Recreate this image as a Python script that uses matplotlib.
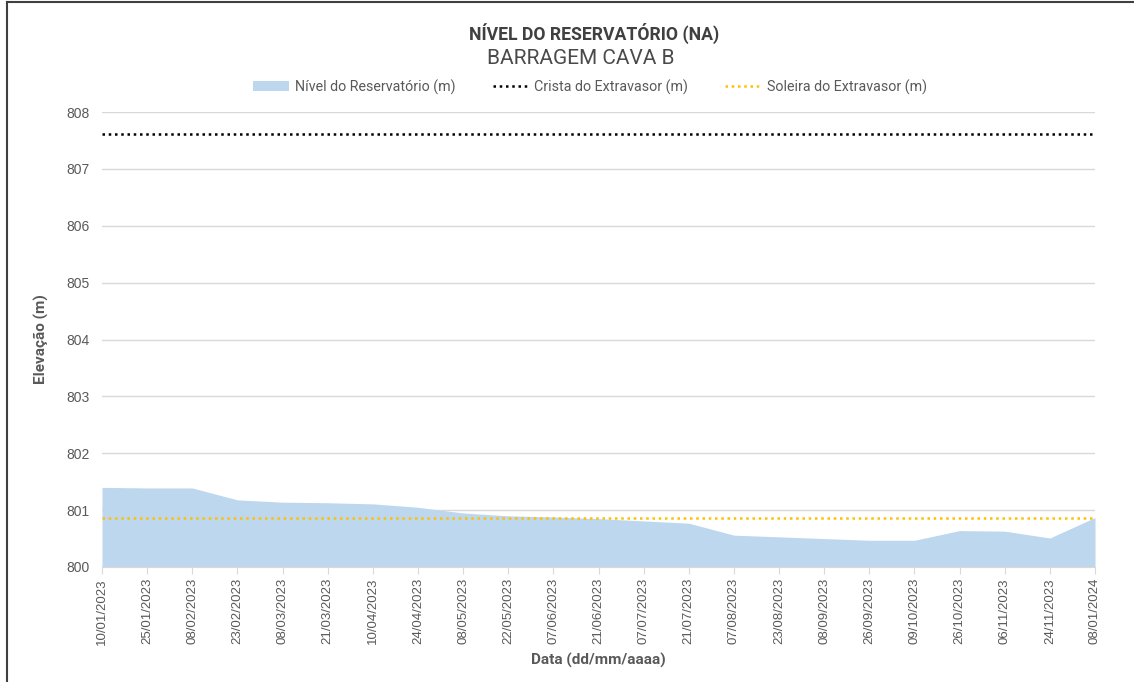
import matplotlib
matplotlib.use("Agg")
import matplotlib.pyplot as plt
from matplotlib.lines import Line2D
from matplotlib.patches import Patch
from matplotlib import font_manager

names = {f.name for f in font_manager.fontManager.ttflist}
narrow = 'Liberation Sans Narrow' if 'Liberation Sans Narrow' in names else 'Roboto'
plt.rcParams['font.family'] = ['Liberation Sans', 'DejaVu Sans']

dates = ["10/01/2023", "25/01/2023", "08/02/2023", "23/02/2023", "08/03/2023",
         "21/03/2023", "10/04/2023", "24/04/2023", "08/05/2023", "22/05/2023",
         "07/06/2023", "21/06/2023", "07/07/2023", "21/07/2023", "07/08/2023",
         "23/08/2023", "08/09/2023", "26/09/2023", "09/10/2023", "26/10/2023",
         "06/11/2023", "24/11/2023", "08/01/2024"]
nivel = [801.40, 801.39, 801.39, 801.18, 801.14, 801.13, 801.11, 801.05,
         800.95, 800.90, 800.88, 800.85, 800.81, 800.77, 800.56, 800.53,
         800.50, 800.47, 800.47, 800.64, 800.63, 800.51, 800.87]
crista = 807.62
soleira = 800.87

fig = plt.figure(figsize=(11.34, 6.82), dpi=100)
ax = fig.add_axes([102/1134, 1-567/682, (1095-102)/1134, (567-112)/682])

x = list(range(len(dates)))
ax.fill_between(x, 800, nivel, color='#bdd7ee', linewidth=0, zorder=2)
ax.plot(x, [crista]*len(x), color='#000000', linestyle=(0, (1, 1.5)), linewidth=1.8, zorder=3)
ax.plot(x, [soleira]*len(x), color='#ffc000', linestyle=(0, (1, 1.5)), linewidth=1.8, zorder=3)

ax.set_xlim(0, len(dates)-1)
ax.set_ylim(800, 808)
ax.set_yticks(range(800, 809))
ax.set_xticks(x)
ax.set_xticklabels(dates, rotation=90, fontsize=9.5, color='#595959')
ax.tick_params(axis='y', length=0, labelsize=10, labelcolor='#595959', pad=9)
ax.tick_params(axis='x', length=5, color='#d9d9d9', pad=3)
ax.grid(axis='y', color='#d9d9d9', linewidth=1, zorder=0)
for s in ['top', 'right', 'left']:
    ax.spines[s].set_visible(False)
ax.spines['bottom'].set_color('#d9d9d9')
ax.set_axisbelow(True)

ax.set_ylabel('Elevação (m)', fontsize=11, fontweight='bold', color='#595959',
              family=narrow, labelpad=12)
ax.set_xlabel('Data (dd/mm/aaaa)', fontsize=11, fontweight='bold', color='#595959',
              family=narrow, labelpad=6)

fig.text(594/1134, 1-33/682, 'NÍVEL DO RESERVATÓRIO (NA)', ha='center', va='center',
         fontsize=12.7, fontweight='bold', color='#404040', family=narrow)
fig.text(581/1134, 1-58/682, 'BARRAGEM CAVA B', ha='center', va='center',
         fontsize=15, color='#4a4a4a', family=narrow)

handles = [Patch(facecolor='#bdd7ee', edgecolor='none'),
           Line2D([], [], color='#000000', linestyle=(0, (1, 1.5)), linewidth=1.8),
           Line2D([], [], color='#ffc000', linestyle=(0, (1, 1.5)), linewidth=1.8)]
labels = ['Nível do Reservatório (m)', 'Crista do Extravasor (m)', 'Soleira do Extravasor (m)']
fig.legend(handles, labels, loc='center', bbox_to_anchor=(590/1134, 1-87/682), ncol=3,
           frameon=False, labelcolor='#595959', handlelength=2.5,
           handletextpad=0.4, columnspacing=2.6, prop={'family': narrow, 'size': 10.3})

# border lines (top and left)
fig.add_artist(Line2D([7/1134, 7/1134], [0, 1-2/682], color='#404040', linewidth=1.5,
                      transform=fig.transFigure))
fig.add_artist(Line2D([7/1134, 1], [1-2/682, 1-2/682], color='#404040', linewidth=1.5,
                      transform=fig.transFigure))

fig.savefig('out.png', dpi=100)
